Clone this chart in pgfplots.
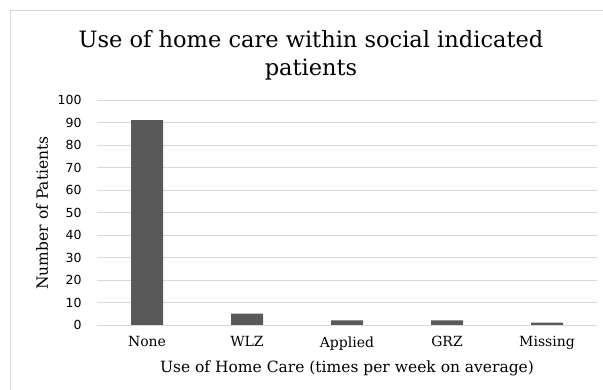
\documentclass[border=0pt]{standalone}
\usepackage{fontspec}
\setmainfont{DejaVu Serif}
\newfontfamily\ticksfont{DejaVu Sans}
\usepackage{pgfplots}
\pgfplotsset{compat=1.18}
\definecolor{bargray}{HTML}{595959}
\definecolor{gridgray}{HTML}{D9D9D9}
\definecolor{framegray}{HTML}{D9D9D9}
\begin{document}
\begin{tikzpicture}[x=1pt,y=1pt]
\path[use as bounding box, fill=white] (0pt,0pt) rectangle (603pt,390pt);
% chart frame (left and top edges visible)
\draw[framegray, line width=1pt] (10pt,0pt) -- (10pt,379pt) -- (603pt,379pt);
\begin{axis}[
  at={(97pt,65pt)}, anchor=south west,
  scale only axis, width=500pt, height=225pt,
  ybar, bar width=32pt,
  xmin=-0.5, xmax=4.5, ymin=0, ymax=100,
  ytick={0,10,...,100},
  xtick=data,
  xticklabels={None,WLZ,Applied,GRZ,Missing},
  axis line style={draw=none},
  tick style={draw=none},
  ymajorgrids, grid style={gridgray, line width=0.8pt},
  major tick length=0pt,
  yticklabel style={font=\ticksfont\fontsize{12.5}{14}\selectfont, text=black, xshift=-12pt},
  xticklabel style={font=\fontsize{14}{16}\selectfont, yshift=-8pt},
  /pgf/number format/assume math mode=true,
  clip=false,
]
\addplot[fill=bargray, draw=none] coordinates {(0,91) (1,5) (2,2) (3,2) (4,1)};
\draw[gridgray, line width=0.8pt] (rel axis cs:0,0) -- (rel axis cs:1,0);
\end{axis}
\node[font=\fontsize{22.5}{28}\selectfont, align=center] at (311pt,335pt) {Use of home care within social indicated\\patients};
\node[font=\fontsize{15.5}{18}\selectfont, rotate=90] at (42pt,177pt) {Number of Patients};
\node[font=\fontsize{15.5}{18}\selectfont] at (347pt,22pt) {Use of Home Care (times per week on average)};
\end{tikzpicture}
\end{document}
